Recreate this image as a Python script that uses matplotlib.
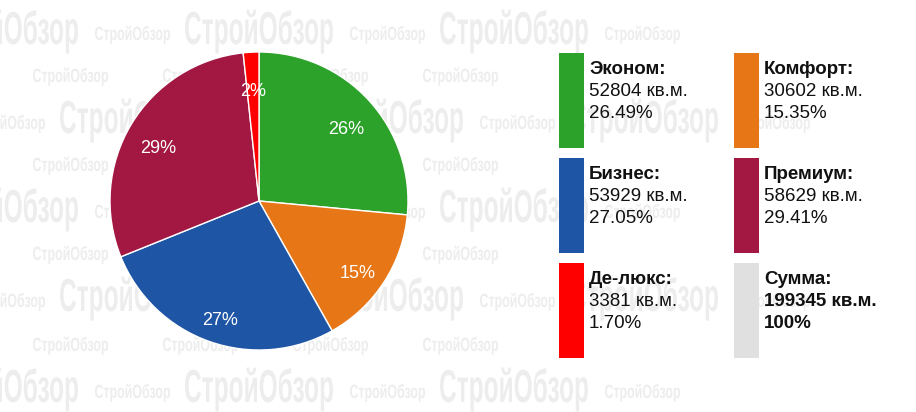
import matplotlib
matplotlib.use("Agg")
import matplotlib.pyplot as plt
from matplotlib.patches import Rectangle, PathPatch
from matplotlib.textpath import TextPath
from matplotlib.font_manager import FontProperties
from matplotlib.transforms import Affine2D
import numpy as np

plt.rcParams['font.family'] = ['Liberation Sans', 'DejaVu Sans']

names = ["Эконом:", "Комфорт:", "Бизнес:", "Премиум:", "Де-люкс:"]
areas = [52804, 30602, 53929, 58629, 3381]
shares = ["26.49%", "15.35%", "27.05%", "29.41%", "1.70%"]
colors = ["#2ca22a", "#e67616", "#1f55a5", "#a31843", "#fe0000"]
total_name = "Сумма:"
total_area = 199345
total_share = "100%"
total_color = "#e0e0e0"
watermark = "СтройОбзор"

W, H = 916, 412
fig = plt.figure(figsize=(W / 100, H / 100), dpi=100)
ax = fig.add_axes([0, 0, 1, 1])

# faint background watermark (left part only)
clip = Rectangle((0, 0), 508, H, transform=ax.transData)
fp = FontProperties(family='Liberation Sans', weight='bold')
tp = TextPath((0, 0), watermark, size=10, prop=fp)
ext = tp.get_extents()
XH = 5.19  # x-height of the font at size 10


def stamp(x, yc, width, xheight):
    sy = xheight / XH
    tr = Affine2D().translate(-ext.x0, 0).scale(width / ext.width, -sy) \
        .translate(x, yc + xheight / 2) + ax.transData
    p = PathPatch(tp, transform=tr, facecolor="#ededed", edgecolor="none", zorder=0)
    p.set_clip_path(clip)
    ax.add_patch(p)


for i, yc in enumerate([32, 121, 210, 299, 390]):
    shift = 0 if i % 2 == 0 else 130
    for k in range(-1, 3):
        stamp(-70 + shift + 255 * k, yc, 148, 24)
        stamp(95 + shift + 255 * k, yc + 3, 75, 10)
for yc in [77, 166, 255, 346]:
    for k in range(4):
        stamp(33 + 130 * k, yc, 75, 10)

# pie
cx, cy, r = 259, 201, 149
wedges, _ = ax.pie(areas, colors=colors, startangle=-90, counterclock=True,
                   center=(cx, cy), radius=r, frame=True,
                   wedgeprops=dict(edgecolor="white", linewidth=1))
for w, a in zip(wedges, areas):
    w.set_zorder(2)
    ang = np.deg2rad((w.theta1 + w.theta2) / 2)
    d = 0.79 * r
    ax.text(cx + d * np.cos(ang), cy + d * np.sin(ang) + 8, "%d%%" % round(a / total_area * 100),
            color="white", fontsize=13, ha="center", va="center", zorder=3)
ax.set_xlim(0, W)
ax.set_ylim(H, 0)
ax.set_aspect('equal')
ax.axis('off')

# legend blocks
items = list(zip(names, areas, shares, colors)) + [(total_name, total_area, total_share, total_color)]
for i, (nm, ar, sh, col) in enumerate(items):
    col_i, row_i = i % 2, i // 2
    x0 = 559 + 175 * col_i
    y0 = 53 + 105 * row_i
    ax.add_patch(Rectangle((x0, y0), 25, 95, facecolor=col, edgecolor="none"))
    bold_rest = "bold" if nm == total_name else "normal"
    tx = x0 + 30
    ax.text(tx, y0 + 21, nm, fontsize=13.5, fontweight="bold", color="#111111", va="baseline")
    ax.text(tx, y0 + 43, "%d кв.м." % ar, fontsize=13.5, fontweight=bold_rest, color="#111111", va="baseline")
    ax.text(tx, y0 + 65, sh, fontsize=13.5, fontweight=bold_rest, color="#111111", va="baseline")

fig.savefig("out.png", dpi=100, facecolor="white")
